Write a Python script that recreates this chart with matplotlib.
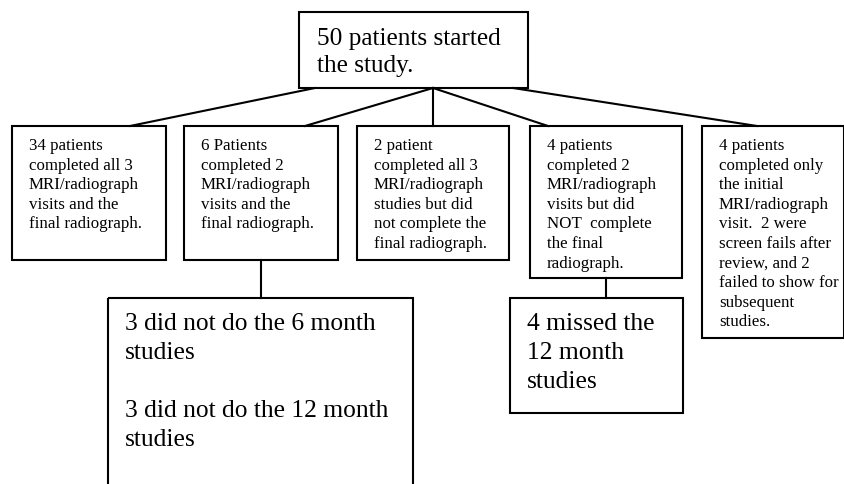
import matplotlib
matplotlib.use("Agg")
import matplotlib.pyplot as plt
from matplotlib.patches import Rectangle

plt.rcParams['font.family'] = ['Liberation Serif', 'DejaVu Serif']

top_text = "50 patients started\nthe study."

middle_texts = [
    "34 patients\ncompleted all 3\nMRI/radiograph\nvisits and the\nfinal radiograph.",
    "6 Patients\ncompleted 2\nMRI/radiograph\nvisits and the\nfinal radiograph.",
    "2 patient\ncompleted all 3\nMRI/radiograph\nstudies but did\nnot complete the\nfinal radiograph.",
    "4 patients\ncompleted 2\nMRI/radiograph\nvisits but did\nNOT  complete\nthe final\nradiograph.",
    "4 patients\ncompleted only\nthe initial\nMRI/radiograph\nvisit.  2 were\nscreen fails after\nreview, and 2\nfailed to show for\nsubsequent\nstudies.",
]

bottom_texts = [
    "3 did not do the 6 month\nstudies\n\n3 did not do the 12 month\nstudies",
    "4 missed the\n12 month\nstudies",
]

# layout in pixels: (x0, y0, x1, y1), y measured from the top
top_box = (299, 12, 528, 88)
mid_boxes = [(12, 126, 166, 260), (184, 126, 338, 260), (357, 126, 509, 260),
             (530, 126, 682, 278), (702, 126, 844, 338)]
bot_boxes = [(108, 298, 413, 492), (510, 298, 683, 413)]
bot_links = [261, 606]
bot_parent = [1, 3]
top_anchor = [315, 433, 433, 433, 513]
mid_anchor = [130, 305, 433, 548, 757]

fig = plt.figure(figsize=(8.45, 4.84), dpi=100)
ax = fig.add_axes([0, 0, 1, 1])
ax.set_xlim(0, 845)
ax.set_ylim(484, 0)
ax.axis('off')

LW = 1.5


def box(b):
    x0, y0, x1, y1 = b
    ax.add_patch(Rectangle((x0, y0), x1 - x0, y1 - y0, fill=False,
                           edgecolor='black', linewidth=LW, zorder=2))


def write(x, y, text, size, pitch):
    # one text per line, first baseline at y
    for i, line in enumerate(text.split("\n")):
        if line:
            ax.text(x, y + i * pitch, line, fontsize=size, va='baseline',
                    ha='left')


box(top_box)
write(317, 45, top_text, 18.2, 27)

for b, t in zip(mid_boxes, middle_texts):
    box(b)
    write(b[0] + 17, 150, t, 12.2, 19.6)

for a, m in zip(top_anchor, mid_anchor):
    ax.plot([a, m], [top_box[3], mid_boxes[0][1]], color='black', lw=LW)

for b, t, p, cx in zip(bot_boxes, bottom_texts, bot_parent, bot_links):
    box(b)
    ax.plot([cx, cx], [mid_boxes[p][3], b[1]], color='black', lw=LW)
    write(b[0] + 17, 330, t, 18.4, 29)

fig.savefig("out.png", dpi=100)
